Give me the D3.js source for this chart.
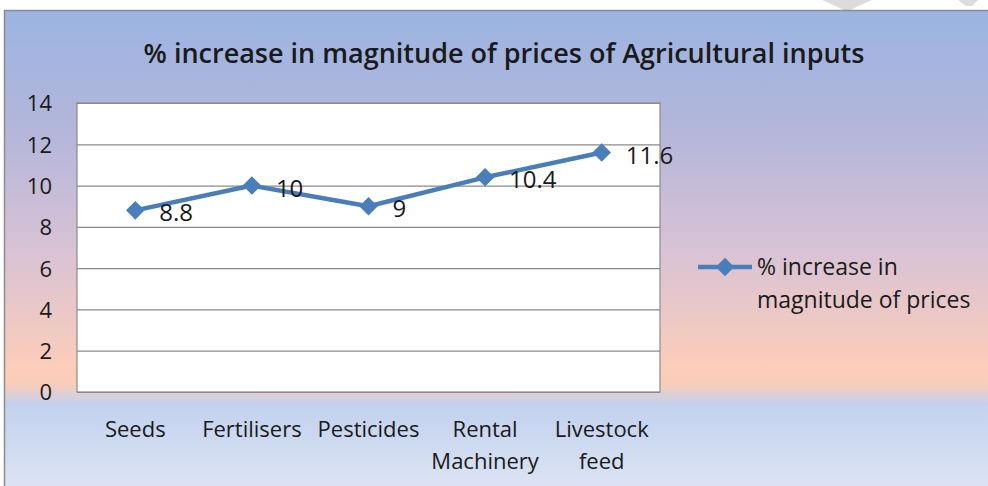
<!DOCTYPE html>
<html>
<head>
<meta charset="utf-8">
<script src="https://cdn.jsdelivr.net/npm/d3@7"></script>
<style>
  body { margin: 0; background: #ffffff; }
  svg text { font-family: "Open Sans", "Noto Sans", sans-serif; fill: #1a1a1a; }
</style>
</head>
<body>
<div class="chartBox"></div>
<script>
// Data
var categories = [["Seeds"], ["Fertilisers"], ["Pesticides"], ["Rental", "Machinery"], ["Livestock", "feed"]];
var values = [8.8, 10, 9, 10.4, 11.6];
var yTicks = [0, 2, 4, 6, 8, 10, 12, 14];
var chartTitle = "% increase in magnitude of prices of Agricultural inputs";
var legendLines = ["% increase in", "magnitude of prices"];

var svgWidth = 988;
var svgHeight = 486;

// plot area inside the chart
var plot = { left: 77, top: 103, right: 660, bottom: 392 };
var plotWidth = plot.right - plot.left;
var plotHeight = plot.bottom - plot.top;

var svg = d3.select(".chartBox")
    .append("svg")
    .attr("width", svgWidth)
    .attr("height", svgHeight);

// background gradient of the chart frame
var defs = svg.append("defs");
var grad = defs.append("linearGradient")
    .attr("id", "bgGrad")
    .attr("x1", 0).attr("y1", 0)
    .attr("x2", 0).attr("y2", 1);
[
    [0, "#9bb4e2"],
    [0.25, "#b4b6da"],
    [0.5, "#d9c3d4"],
    [0.74, "#fccdb9"],
    [0.77, "#f8cdbb"],
    [0.81, "#c2d1ee"],
    [1, "#dfe6f4"]
].forEach(function(s) {
    grad.append("stop").attr("offset", s[0]).attr("stop-color", s[1]);
});

// faint watermark shapes in the white margin
svg.append("polygon")
    .attr("points", "822,0 872,0 850,10 844,10")
    .attr("fill", "#dcdcdc");
svg.append("polygon")
    .attr("points", "958,0 978,0 972,6 966,6")
    .attr("fill", "#dcdcdc");

svg.append("rect")
    .attr("x", 4.5)
    .attr("y", 10.5)
    .attr("width", svgWidth)
    .attr("height", svgHeight)
    .attr("fill", "url(#bgGrad)")
    .attr("stroke", "#8c8c8c")
    .attr("stroke-width", 1.5);

svg.append("text")
    .attr("x", 504)
    .attr("y", 63)
    .attr("text-anchor", "middle")
    .style("font-size", "27px")
    .style("font-weight", "600")
    .text(chartTitle);

var chartGroup = svg.append("g")
    .attr("transform", "translate(" + plot.left + "," + plot.top + ")");

var xBand = d3.scaleBand()
    .domain(d3.range(categories.length))
    .range([0, plotWidth]);

var yLinearScale = d3.scaleLinear()
    .domain([0, 14])
    .range([plotHeight, 0]);

chartGroup.append("rect")
    .attr("width", plotWidth)
    .attr("height", plotHeight)
    .attr("fill", "#ffffff");

// gridlines
chartGroup.append("g")
    .call(d3.axisLeft(yLinearScale).tickValues(yTicks).tickSize(-plotWidth).tickFormat(""))
    .call(function(g) {
        g.select(".domain").remove();
        g.selectAll(".tick line").attr("stroke", "#8a8a8a").attr("stroke-width", 1.2);
    });

chartGroup.append("rect")
    .attr("width", plotWidth)
    .attr("height", plotHeight)
    .attr("fill", "none")
    .attr("stroke", "#8a8a8a")
    .attr("stroke-width", 1.2);

// y axis labels
chartGroup.append("g")
    .call(d3.axisLeft(yLinearScale).tickValues(yTicks).tickSize(0).tickPadding(25))
    .call(function(g) {
        g.select(".domain").remove();
        g.selectAll(".tick text")
            .style("font-size", "22px")
            .style("font-family", "\"Open Sans\", sans-serif")
            .attr("fill", "#1a1a1a")
            .attr("dy", "0.36em");
    });

// x axis labels (multi-line)
var xLabels = chartGroup.append("g")
    .attr("transform", "translate(0," + plotHeight + ")")
    .selectAll("text")
    .data(categories)
    .enter().append("text")
    .attr("x", function(d, i) { return xBand(i) + xBand.bandwidth() / 2; })
    .attr("y", 45)
    .attr("text-anchor", "middle")
    .style("font-size", "22px");
xLabels.selectAll("tspan")
    .data(function(d) { return d; })
    .enter().append("tspan")
    .attr("x", function() { return d3.select(this.parentNode).attr("x"); })
    .attr("dy", function(d, i) { return i === 0 ? 0 : 32; })
    .text(function(d) { return d; });

var cx = function(d, i) { return xBand(i) + xBand.bandwidth() / 2; };

var line = d3.line()
    .x(function(d, i) { return cx(d, i); })
    .y(function(d) { return yLinearScale(d); });

chartGroup.append("path")
    .datum(values)
    .attr("d", line)
    .attr("fill", "none")
    .attr("stroke", "#4a7ebb")
    .attr("stroke-width", 4.5)
    .attr("stroke-linejoin", "round");

var diamond = d3.symbol().type(d3.symbolDiamond2).size(220);

chartGroup.selectAll(".marker")
    .data(values)
    .enter().append("path")
    .attr("class", "marker")
    .attr("d", diamond)
    .attr("transform", function(d, i) { return "translate(" + cx(d, i) + "," + yLinearScale(d) + ")"; })
    .attr("fill", "#4a7ebb");

chartGroup.selectAll(".dataLabel")
    .data(values)
    .enter().append("text")
    .attr("class", "dataLabel")
    .attr("x", function(d, i) { return cx(d, i) + 24; })
    .attr("y", function(d) { return yLinearScale(d) + 11; })
    .style("font-size", "24px")
    .text(function(d) { return d; });

// legend
var legend = svg.append("g").attr("transform", "translate(698,267)");
legend.append("line")
    .attr("x1", 0).attr("x2", 54)
    .attr("stroke", "#4a7ebb")
    .attr("stroke-width", 4.5);
legend.append("path")
    .attr("d", diamond)
    .attr("transform", "translate(27,0)")
    .attr("fill", "#4a7ebb");
legend.selectAll(".legText")
    .data(legendLines)
    .enter().append("text")
    .attr("x", 59)
    .attr("y", function(d, i) { return 8 + i * 33; })
    .style("font-size", "23px")
    .text(function(d) { return d; });
</script>
</body>
</html>
